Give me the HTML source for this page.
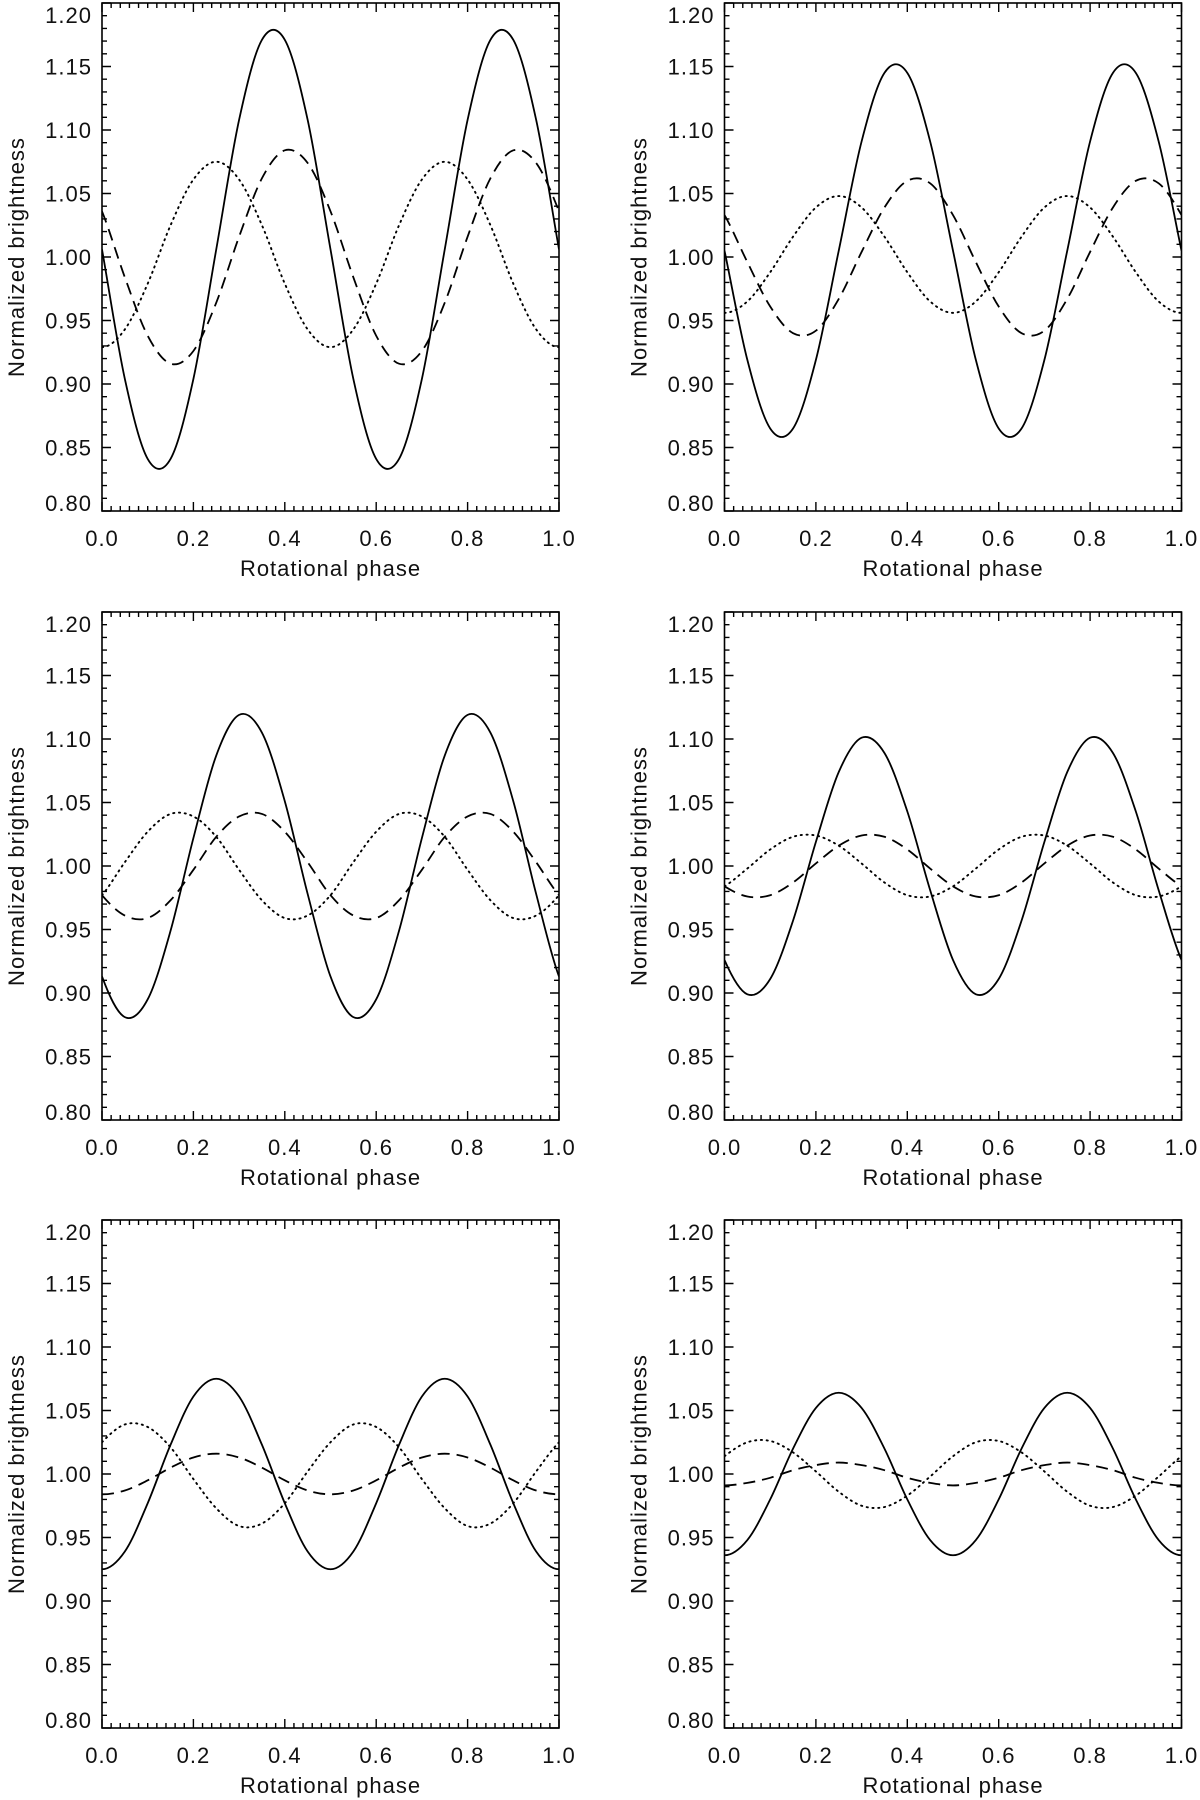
<!DOCTYPE html>
<html><head><meta charset="utf-8">
<style>
html,body{margin:0;padding:0;background:#fff;}
svg{display:block;}
text{font-family:"Liberation Sans",sans-serif;fill:#111;}
</style></head>
<body>
<svg id="fig" width="1200" height="1800" viewBox="0 0 1200 1800" xmlns="http://www.w3.org/2000/svg"></svg>
<script>
// Phase samples (step 0.05) shared by all series
const phases = [0,0.05,0.1,0.15,0.2,0.25,0.3,0.35,0.4,0.45,0.5,0.55,0.6,0.65,0.7,0.75,0.8,0.85,0.9,0.95,1.0];
const xTickLabels = ["0.0","0.2","0.4","0.6","0.8","1.0"];
const yTickLabels = ["0.80","0.85","0.90","0.95","1.00","1.05","1.10","1.15","1.20"];

// Panel 1 (top-left)
const p1Solid  = [1.006,0.904,0.841,0.841,0.904,1.006,1.108,1.171,1.171,1.108,1.006,0.904,0.841,0.841,0.904,1.006,1.108,1.171,1.171,1.108,1.006];
const p1Dashed = [1.036,0.984,0.938,0.916,0.926,0.964,1.016,1.062,1.084,1.074,1.036,0.984,0.938,0.916,0.926,0.964,1.016,1.062,1.084,1.074,1.036];
const p1Dotted = [0.929,0.943,0.979,1.025,1.061,1.075,1.061,1.025,0.979,0.943,0.929,0.943,0.979,1.025,1.061,1.075,1.061,1.025,0.979,0.943,0.929];
// Panel 2 (top-right)
const p2Solid  = [1.005,0.919,0.865,0.865,0.919,1.005,1.091,1.145,1.145,1.091,1.005,0.919,0.865,0.865,0.919,1.005,1.091,1.145,1.145,1.091,1.005];
const p2Dashed = [1.033,0.996,0.961,0.940,0.942,0.967,1.004,1.039,1.060,1.058,1.033,0.996,0.961,0.940,0.942,0.967,1.004,1.039,1.060,1.058,1.033];
const p2Dotted = [0.956,0.965,0.988,1.016,1.039,1.048,1.039,1.016,0.988,0.965,0.956,0.965,0.988,1.016,1.039,1.048,1.039,1.016,0.988,0.965,0.956];
// Panel 3 (middle-left)
const p3Solid  = [0.913,0.881,0.895,0.949,1.022,1.087,1.119,1.105,1.051,0.978,0.913,0.881,0.895,0.949,1.022,1.087,1.119,1.105,1.051,0.978,0.913];
const p3Dashed = [0.977,0.961,0.959,0.973,0.997,1.023,1.039,1.041,1.027,1.003,0.977,0.961,0.959,0.973,0.997,1.023,1.039,1.041,1.027,1.003,0.977];
const p3Dotted = [0.977,1.003,1.027,1.041,1.039,1.023,0.997,0.973,0.959,0.961,0.977,1.003,1.027,1.041,1.039,1.023,0.997,0.973,0.959,0.961,0.977];
// Panel 4 (middle-right)
const p4Solid  = [0.926,0.899,0.911,0.957,1.019,1.074,1.101,1.089,1.043,0.981,0.926,0.899,0.911,0.957,1.019,1.074,1.101,1.089,1.043,0.981,0.926];
const p4Dashed = [0.984,0.976,0.977,0.987,1.002,1.016,1.024,1.023,1.013,0.998,0.984,0.976,0.977,0.987,1.002,1.016,1.024,1.023,1.013,0.998,0.984];
const p4Dotted = [0.984,0.998,1.013,1.023,1.024,1.016,1.002,0.987,0.977,0.976,0.984,0.998,1.013,1.023,1.024,1.016,1.002,0.987,0.977,0.976,0.984];
// Panel 5 (bottom-left)
const p5Solid  = [0.925,0.939,0.977,1.023,1.061,1.075,1.061,1.023,0.977,0.939,0.925,0.939,0.977,1.023,1.061,1.075,1.061,1.023,0.977,0.939,0.925];
const p5Dashed = [0.984,0.987,0.995,1.005,1.013,1.016,1.013,1.005,0.995,0.987,0.984,0.987,0.995,1.005,1.013,1.016,1.013,1.005,0.995,0.987,0.984];
const p5Dotted = [1.025,1.039,1.037,1.021,0.996,0.973,0.959,0.961,0.977,1.002,1.025,1.039,1.037,1.021,0.996,0.973,0.959,0.961,0.977,1.002,1.025];
// Panel 6 (bottom-right)
const p6Solid  = [0.936,0.948,0.980,1.020,1.052,1.064,1.052,1.020,0.980,0.948,0.936,0.948,0.980,1.020,1.052,1.064,1.052,1.020,0.980,0.948,0.936];
const p6Dashed = [0.991,0.993,0.997,1.003,1.007,1.009,1.007,1.003,0.997,0.993,0.991,0.993,0.997,1.003,1.007,1.009,1.007,1.003,0.997,0.993,0.991];
const p6Dotted = [1.014,1.025,1.026,1.017,1.002,0.986,0.975,0.974,0.983,0.998,1.014,1.025,1.026,1.017,1.002,0.986,0.975,0.974,0.983,0.998,1.014];

const panelSeries = [
  [p1Solid,p1Dashed,p1Dotted],[p2Solid,p2Dashed,p2Dotted],
  [p3Solid,p3Dashed,p3Dotted],[p4Solid,p4Dashed,p4Dotted],
  [p5Solid,p5Dashed,p5Dotted],[p6Solid,p6Dashed,p6Dotted]
];

const NS = "http://www.w3.org/2000/svg";
const svg = document.getElementById('fig');
const colX = [102, 724.5];
const rowY = [3, 612, 1220];
const W = 457, H = 508;
const Y0 = 0.80, Y1 = 1.20;

function mk(tag, attrs, parent){
  const e = document.createElementNS(NS, tag);
  for (const k in attrs) e.setAttribute(k, attrs[k]);
  parent.appendChild(e);
  return e;
}

function smoothPath(pts, pre, post){
  let d = "M" + pts[0][0].toFixed(2) + "," + pts[0][1].toFixed(2);
  for (let i = 0; i < pts.length - 1; i++){
    const p0 = pts[i-1] || pre, p1 = pts[i], p2 = pts[i+1], p3 = pts[i+2] || post;
    const c1x = p1[0] + (p2[0]-p0[0])/6, c1y = p1[1] + (p2[1]-p0[1])/6;
    const c2x = p2[0] - (p3[0]-p1[0])/6, c2y = p2[1] - (p3[1]-p1[1])/6;
    d += " C" + c1x.toFixed(2) + "," + c1y.toFixed(2) + " " + c2x.toFixed(2) + "," + c2y.toFixed(2) + " " + p2[0].toFixed(2) + "," + p2[1].toFixed(2);
  }
  return d;
}

const styles = [
  {name:'solid', dash:null, w:1.8},
  {name:'dashed', dash:'12 7', w:1.8},
  {name:'dotted', dash:'1.2 4.6', w:1.9}
];

for (let p = 0; p < 6; p++){
  const L = colX[p % 2], T = rowY[Math.floor(p / 2)];
  const xs = v => L + v * W;
  const ys = v => T + H - (v - Y0) / (Y1 - Y0) * H;
  const g = mk('g', {}, svg);
  
  

  const cp = mk('clipPath', {id:'clip'+p}, g);
  mk('rect', {x:L, y:T, width:W, height:H}, cp);

  const sg = mk('g', {'clip-path':'url(#clip'+p+')'}, g);
  panelSeries[p].forEach((vals, si) => {
    const n = phases.length;
    const pts = phases.map((ph, i) => [xs(ph), ys(vals[i])]);
    // curves are periodic in phase: wrap neighbours for smooth end tangents
    const pre = [xs(phases[0] - (phases[n-1] - phases[n-2])), ys(vals[n-2])];
    const post = [xs(phases[n-1] + (phases[1] - phases[0])), ys(vals[1])];
    const path = mk('path', {d:smoothPath(pts, pre, post), fill:'none', stroke:'#000', 'stroke-width': styles[si].w}, sg);
    if (styles[si].dash) path.setAttribute('stroke-dasharray', styles[si].dash);
    if (si===2) path.setAttribute('stroke-linecap','round');
    
    
  });

  const fr = mk('rect', {x:L, y:T, width:W, height:H, fill:'none', stroke:'#000', 'stroke-width':1.6}, g);
  
  

  let tk = "";
  for (let i = 0; i <= 50; i++){
    const x = xs(i / 50), len = (i % 10 === 0) ? 9 : 5;
    tk += `M${x.toFixed(2)},${T+H}v${-len}M${x.toFixed(2)},${T}v${len}`;
  }
  for (let i = 0; i <= 40; i++){
    const y = ys(Y0 + i * 0.01), len = (i % 5 === 0) ? 9 : 5;
    tk += `M${L},${y.toFixed(2)}h${len}M${L+W},${y.toFixed(2)}h${-len}`;
  }
  const tp = mk('path', {d:tk, stroke:'#000', 'stroke-width':1.4, fill:'none'}, g);
  
  

  xTickLabels.forEach((lab, i) => {
    const t = mk('text', {x:xs(i*0.2), y:T+H+35, 'font-size':22, 'text-anchor':'middle', 'letter-spacing':1}, g);
    t.textContent = lab;
    
    
  });
  yTickLabels.forEach((lab, i) => {
    let cy = ys(Y0 + i*0.05);
    cy = Math.max(T + 12, Math.min(T + H - 8, cy));
    const t = mk('text', {x:L-10, y:cy+8, 'font-size':22, 'text-anchor':'end', 'letter-spacing':1}, g);
    t.textContent = lab;
    
    
  });
  const xt = mk('text', {x:L+W/2, y:T+H+65, 'font-size':22, 'text-anchor':'middle', 'letter-spacing':1}, g);
  xt.textContent = 'Rotational phase';
  
  
  const ytx = L - 78, yty = T + H/2;
  const yt = mk('text', {x:ytx, y:yty, 'font-size':22, 'text-anchor':'middle', 'letter-spacing':1, transform:`rotate(-90 ${ytx} ${yty})`}, g);
  yt.textContent = 'Normalized brightness';
  
  
}
</script>
</body></html>
